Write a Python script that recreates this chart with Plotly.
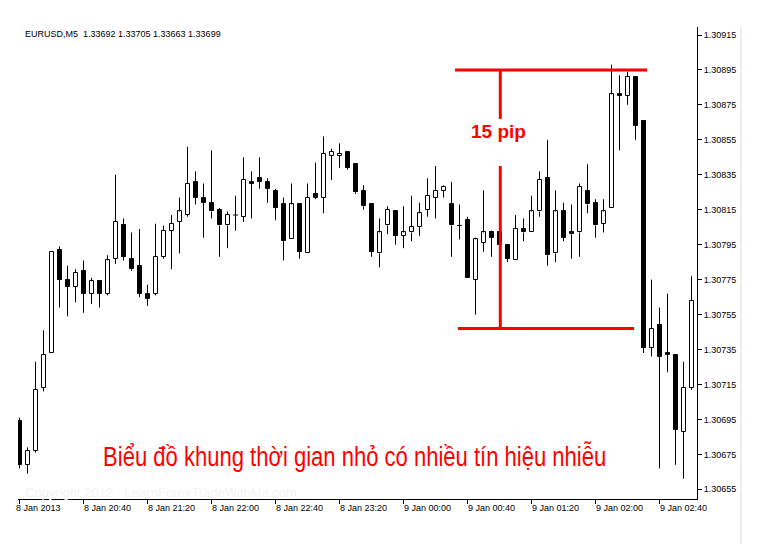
import plotly.graph_objects as go

# ---- data (EURUSD M5) ----
bar_index = list(range(85))
opens = [1.30694, 1.30669, 1.30677, 1.30713, 1.30733, 1.30792, 1.30775, 1.30771, 1.30780, 1.30767,
         1.30774, 1.30767, 1.30787, 1.30806, 1.30787, 1.30783, 1.30767, 1.30767, 1.30788, 1.30803,
         1.30808, 1.30812, 1.30831, 1.30822, 1.30819, 1.30815, 1.30806, 1.30812, 1.30811, 1.30831,
         1.30833, 1.30831, 1.30826, 1.30818, 1.30798, 1.30818, 1.30790, 1.30824, 1.30822, 1.30846,
         1.30846, 1.30848, 1.30841, 1.30826, 1.30818, 1.30790, 1.30806, 1.30814, 1.30800, 1.30802,
         1.30805, 1.30815, 1.30822, 1.30826, 1.30818, 1.30806, 1.30809, 1.30775, 1.30796, 1.30802,
         1.30802, 1.30795, 1.30786, 1.30804, 1.30802, 1.30814, 1.30833, 1.30790, 1.30814, 1.30802,
         1.30802, 1.30826, 1.30819, 1.30807, 1.30816, 1.30881, 1.30880, 1.30891, 1.30866, 1.30736,
         1.30749, 1.30733, 1.30732, 1.30688, 1.30713]
highs = [1.30696, 1.30679, 1.30728, 1.30746, 1.30791, 1.30794, 1.30783, 1.30781, 1.30786, 1.30776,
         1.30774, 1.30789, 1.30835, 1.30810, 1.30802, 1.30804, 1.30772, 1.30807, 1.30806, 1.30812,
         1.30822, 1.30851, 1.30837, 1.30830, 1.30849, 1.30816, 1.30814, 1.30823, 1.30845, 1.30837,
         1.30845, 1.30833, 1.30827, 1.30822, 1.30830, 1.30818, 1.30830, 1.30842, 1.30857, 1.30850,
         1.30853, 1.30848, 1.30841, 1.30829, 1.30818, 1.30810, 1.30817, 1.30814, 1.30817, 1.30823,
         1.30819, 1.30833, 1.30840, 1.30829, 1.30831, 1.30818, 1.30811, 1.30799, 1.30826, 1.30803,
         1.30803, 1.30795, 1.30812, 1.30810, 1.30823, 1.30837, 1.30855, 1.30826, 1.30819, 1.30818,
         1.30830, 1.30841, 1.30821, 1.30821, 1.30898, 1.30892, 1.30894, 1.30891, 1.30866, 1.30775,
         1.30759, 1.30767, 1.30732, 1.30728, 1.30777]
lows = [1.30667, 1.30664, 1.30676, 1.30711, 1.30733, 1.30759, 1.30754, 1.30762, 1.30756, 1.30761,
        1.30759, 1.30766, 1.30784, 1.30786, 1.30780, 1.30765, 1.30760, 1.30766, 1.30787, 1.30781,
        1.30790, 1.30811, 1.30818, 1.30799, 1.30810, 1.30788, 1.30793, 1.30803, 1.30808, 1.30810,
        1.30827, 1.30819, 1.30809, 1.30786, 1.30798, 1.30787, 1.30790, 1.30821, 1.30813, 1.30832,
        1.30839, 1.30838, 1.30824, 1.30815, 1.30788, 1.30782, 1.30801, 1.30795, 1.30793, 1.30797,
        1.30800, 1.30811, 1.30810, 1.30822, 1.30788, 1.30798, 1.30776, 1.30755, 1.30791, 1.30788,
        1.30794, 1.30785, 1.30786, 1.30797, 1.30802, 1.30811, 1.30783, 1.30785, 1.30797, 1.30787,
        1.30788, 1.30813, 1.30799, 1.30802, 1.30816, 1.30849, 1.30875, 1.30855, 1.30733, 1.30731,
        1.30667, 1.30722, 1.30669, 1.30661, 1.30712]
closes = [1.30669, 1.30677, 1.30712, 1.30732, 1.30791, 1.30775, 1.30771, 1.30779, 1.30767, 1.30774,
          1.30767, 1.30786, 1.30808, 1.30788, 1.30781, 1.30767, 1.30764, 1.30788, 1.30803, 1.30807,
          1.30814, 1.30830, 1.30822, 1.30819, 1.30814, 1.30806, 1.30812, 1.30812, 1.30832, 1.30830,
          1.30831, 1.30827, 1.30816, 1.30797, 1.30818, 1.30791, 1.30822, 1.30822, 1.30847, 1.30848,
          1.30847, 1.30839, 1.30825, 1.30817, 1.30791, 1.30802, 1.30815, 1.30800, 1.30802, 1.30805,
          1.30813, 1.30823, 1.30826, 1.30828, 1.30806, 1.30806, 1.30776, 1.30798, 1.30802, 1.30799,
          1.30795, 1.30787, 1.30804, 1.30802, 1.30814, 1.30832, 1.30789, 1.30814, 1.30799, 1.30801,
          1.30828, 1.30818, 1.30806, 1.30814, 1.30881, 1.30880, 1.30891, 1.30863, 1.30736, 1.30747,
          1.30731, 1.30732, 1.30689, 1.30713, 1.30763]

tick_bars = [0, 8, 16, 24, 32, 40, 48, 56, 64, 72, 80]
tick_labels = ["8 Jan 2013", "8 Jan 20:40", "8 Jan 21:20", "8 Jan 22:00", "8 Jan 22:40",
               "8 Jan 23:20", "9 Jan 00:00", "9 Jan 00:40", "9 Jan 01:20", "9 Jan 02:00",
               "9 Jan 02:40"]
price_ticks = [1.30655, 1.30675, 1.30695, 1.30715, 1.30735, 1.30755, 1.30775,
               1.30795, 1.30815, 1.30835, 1.30855, 1.30875, 1.30895, 1.30915]

title_text = "EURUSD,M5\u00a0\u00a01.33692 1.33705 1.33663 1.33699"
caption = "Biểu đồ khung thời gian nhỏ có nhiều tín hiệu nhiễu"
pip_label = "15 pip"
range_top = 1.30895
range_bottom = 1.30747

# ---- build candle pieces ----
wx, wy = [], []
up_x, up_base, up_h = [], [], []
dn_x, dn_base, dn_h = [], [], []
dj_x, dj_y = [], []
for i, o, h, l, c in zip(bar_index, opens, highs, lows, closes):
    top, bot = max(o, c), min(o, c)
    if h > top:
        wx += [i, i, None]; wy += [top, h, None]
    if l < bot:
        wx += [i, i, None]; wy += [bot, l, None]
    if c > o:
        up_x.append(i); up_base.append(bot); up_h.append(top - bot)
    elif c < o:
        dn_x.append(i); dn_base.append(bot); dn_h.append(top - bot)
    else:
        dj_x += [i - 0.3, i + 0.3, None]; dj_y += [c, c, None]

BW = 0.5
fig = go.Figure()
fig.add_trace(go.Scatter(x=wx, y=wy, mode="lines", line=dict(color="black", width=1),
                         hoverinfo="skip", showlegend=False))
fig.add_trace(go.Scatter(x=dj_x, y=dj_y, mode="lines", line=dict(color="black", width=1),
                         hoverinfo="skip", showlegend=False))
fig.add_trace(go.Bar(x=up_x, y=up_h, base=up_base, width=BW,
                     marker=dict(color="white", line=dict(color="black", width=1)),
                     showlegend=False))
fig.add_trace(go.Bar(x=dn_x, y=dn_h, base=dn_base, width=BW,
                     marker=dict(color="black", line=dict(color="black", width=1)),
                     showlegend=False))

RED = "#ff0000"
shapes = [
    dict(type="line", xref="x", yref="y", x0=54.44, x1=78.44, y0=range_top, y1=range_top,
         line=dict(color=RED, width=3)),
    dict(type="line", xref="x", yref="y", x0=54.81, x1=76.81, y0=range_bottom, y1=range_bottom,
         line=dict(color=RED, width=3)),
    dict(type="line", xref="x", yref="y", x0=60.1, x1=60.1, y0=range_top, y1=1.30867,
         line=dict(color=RED, width=3)),
    dict(type="line", xref="x", yref="y", x0=60.1, x1=60.1, y0=1.30840, y1=range_bottom,
         line=dict(color=RED, width=3)),
    dict(type="line", xref="paper", yref="paper", x0=1.0648, x1=1.0648, y0=1, y1=-0.12,
         line=dict(color="#dcdcdc", width=1)),
]

annotations = [
    dict(text=title_text, xref="paper", yref="paper", x=0.0074, y=0.9845, xanchor="left",
         yanchor="middle", showarrow=False,
         font=dict(family="Liberation Sans, Arial, sans-serif", size=9, color="black")),
    dict(text=pip_label, xref="x", yref="y", x=59.9, y=1.30860, xanchor="center",
         yanchor="middle", showarrow=False,
         font=dict(family="Liberation Sans, Arial, sans-serif", size=19, color=RED, weight="bold")),
    dict(text=caption, xref="paper", yref="paper", x=0.1222, y=0.0896, xanchor="left",
         yanchor="middle", showarrow=False,
         font=dict(family="Liberation Sans, Arial, sans-serif", size=28, color=RED)),
    dict(text="Copyright 2012 - LearnForexTradeWithMe.com", xref="paper", yref="paper",
         x=0.0074, y=0.0148, xanchor="left", yanchor="middle", showarrow=False,
         font=dict(family="Liberation Sans, Arial, sans-serif", size=13, color="#f4f4f4")),
]
for k, (tb, tl) in enumerate(zip(tick_bars, tick_labels)):
    annotations.append(dict(text=tl, xref="x", yref="paper", x=tb, y=0, xanchor="left",
                            yanchor="top", yshift=-2, xshift=(-6 if k == 0 else -2),
                            showarrow=False,
                            font=dict(family="Liberation Sans, Arial, sans-serif", size=9,
                                      color="black")))

# page body has an 8px default margin, so the figure is sized to fit inside 763x544
fig.update_layout(
    width=755, height=536,
    margin=dict(l=10, r=66, t=19, b=45, pad=0, autoexpand=False),
    paper_bgcolor="white", plot_bgcolor="white",
    barmode="overlay", bargap=0,
    shapes=shapes, annotations=annotations,
    showlegend=False,
    xaxis=dict(range=[-0.1875, 84.6875], showgrid=False, zeroline=False,
               showline=True, linecolor="black", linewidth=1,
               tickmode="array", tickvals=tick_bars, ticks="outside", ticklen=4,
               tickcolor="black", showticklabels=False, fixedrange=True),
    yaxis=dict(range=[1.3064945, 1.3091958], side="right", showgrid=False, zeroline=False,
               showline=True, linecolor="black", linewidth=1,
               tickmode="array", tickvals=price_ticks,
               ticktext=[f"{p:.5f}" for p in price_ticks],
               ticks="outside", ticklen=4, tickcolor="black",
               tickfont=dict(family="Liberation Sans, Arial, sans-serif", size=9, color="black"),
               fixedrange=True),
)

# the caption in the original uses a narrow face; compress it horizontally
post_js = """
var gd = document.getElementById('{plot_id}');
gd.querySelectorAll('text.annotation-text').forEach(function(t){
  if (t.textContent.indexOf('khung') >= 0) {
    t.style.transformBox = 'fill-box';
    t.style.transformOrigin = '0% 50%';
    t.style.transform = 'scaleX(0.787)';
  }
});
"""

fig.write_html("out.html", post_script=post_js)
